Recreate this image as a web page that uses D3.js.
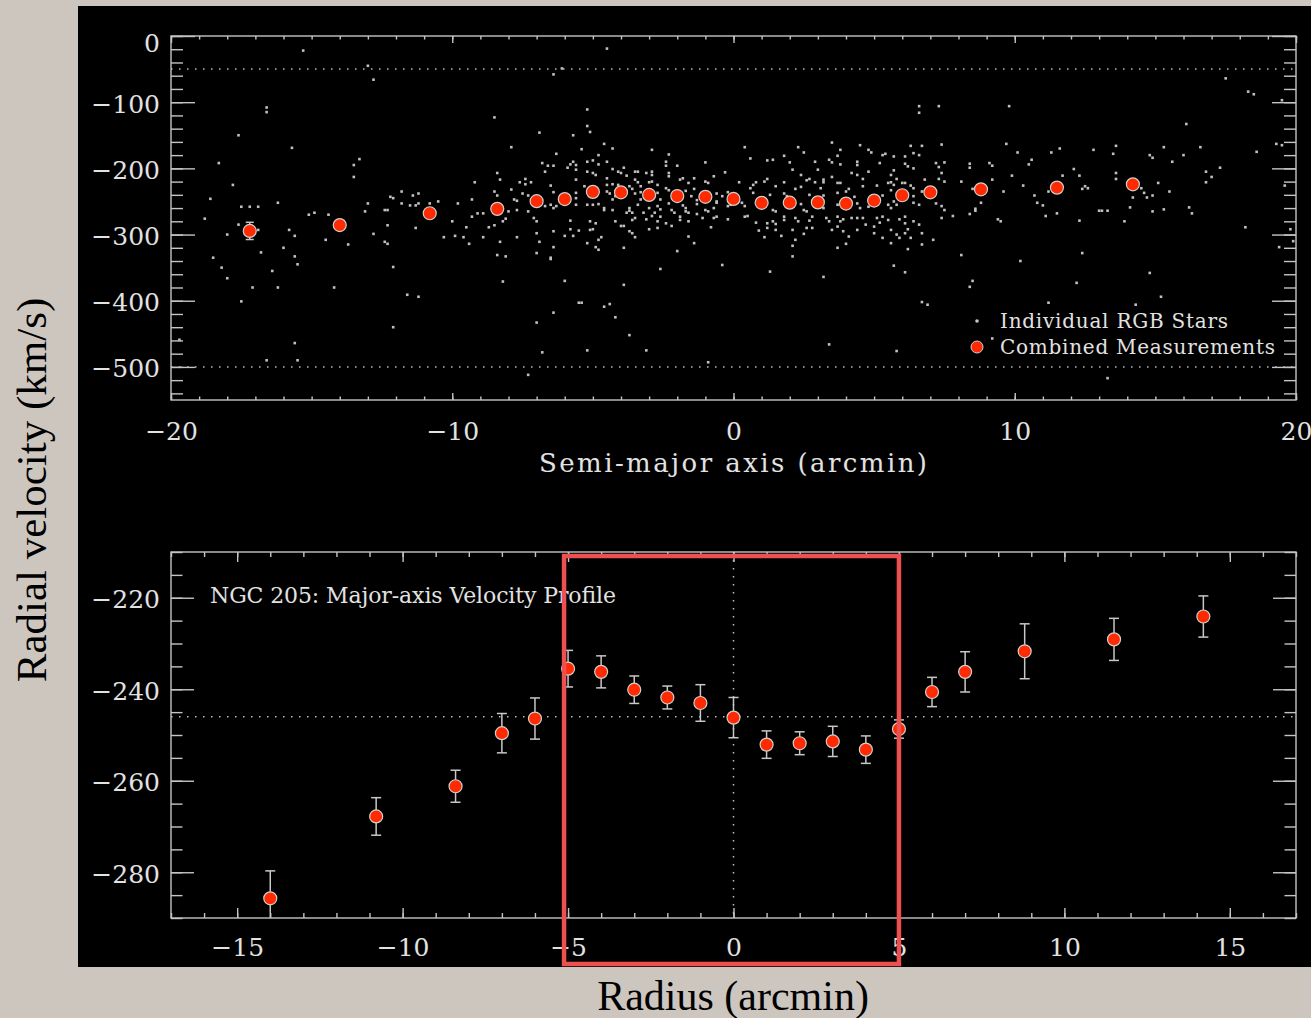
<!DOCTYPE html>
<html><head><meta charset="utf-8">
<script src="https://cdn.jsdelivr.net/npm/d3@7"></script>
<style>
html,body{margin:0;padding:0;background:#cdc6bf;}
svg{display:block;}
</style></head><body>
<svg id="c" width="1311" height="1018"></svg>
<script>
// ---------------- DATA ----------------
const radius      = [-17.2,-14,-10.8,-8.4,-7,-6,-5,-4,-3,-2,-1,0,1,2,3,4,5,6,7,8.8,11.5,14.2];
const velocity    = [-294.5,-285.7,-267.8,-261.2,-249.6,-246.4,-235.5,-236.2,-240.1,-241.8,-243,-246.2,-252.1,-251.8,-251.4,-253.2,-248.7,-240.6,-236.2,-231.7,-229.1,-224.1];
const velocityErr = [13,6,4.1,3.5,4.3,4.5,4,3.5,3,2.5,4,4.4,3,2.5,3.3,3,2,3.2,4.4,6,4.6,4.5];

// individual RGB stars: [semi-major axis (arcmin), radial velocity (km/s)]
const stars = [
[-15.3,-22],[-16.6,-108],[-16.6,-115],[-17.6,-150],[-15.7,-169],[-18.3,-192],[-13.3,-186],[-13.5,-195],[-13.5,-213],[-17.8,-225],[-18.6,-246],[-16.2,-252],[-17.5,-258],[-17.2,-258],[-16.9,-258],[-18.8,-276],[-17.6,-285],[-16.9,-293],[-18.0,-300],[-15.1,-270],[-14.9,-267],[-14.4,-270],[-15.8,-293],[-15.6,-302],[-14.5,-308],[-13.7,-315],[-16.0,-320],[-18.5,-335],[-16.8,-327],[-15.6,-333],[-15.5,-345],[-18.2,-350],[-16.4,-355],[-18.0,-366],[-17.1,-380],[-16.2,-380],[-14.2,-380],[-17.5,-401],[-19.7,-459],[-15.6,-464],[-16.6,-490],[-15.5,-490],
[-13.0,-45],[-12.8,-66],[-8.5,-123],[-6.9,-146],[-7.9,-168],[-6.8,-192],[-6.6,-196],[-6.7,-205],[-8.4,-207],[-8.3,-217],[-9.2,-221],[-7.6,-221],[-7.4,-216],[-7.4,-224],[-7.2,-221],[-6.5,-226],[-8.5,-235],[-7.9,-232],[-7.5,-238],[-7.3,-241],[-11.8,-235],[-12.1,-245],[-12.2,-243],[-11.4,-241],[-11.2,-238],[-13.0,-253],[-11.8,-253],[-11.5,-256],[-11.3,-256],[-11.2,-253],[-10.8,-253],[-10.5,-250],[-9.8,-253],[-9.3,-247],[-8.4,-241],[-7.8,-247],[-7.7,-249],[-13.1,-265],[-12.4,-263],[-12.3,-263],[-9.1,-268],[-8.9,-268],[-9.3,-273],[-8.0,-265],[-7.7,-263],[-7.3,-265],[-8.1,-276],[-8.2,-280],[-7.1,-275],[-7.0,-280],[-6.7,-257],[-6.5,-255],[-12.3,-286],[-11.3,-290],[-10.0,-280],[-9.5,-289],[-8.7,-289],[-8.5,-286],[-12.8,-299],[-10.3,-304],[-9.9,-302],[-9.6,-304],[-8.9,-304],[-7.7,-304],[-7.0,-298],[-12.4,-311],[-12.3,-314],[-9.4,-314],[-8.3,-311],[-6.9,-311],[-7.0,-328],[-8.4,-331],[-8.1,-333],[-6.5,-337],[-12.1,-349],[-8.2,-371],[-11.6,-391],[-11.2,-394],[-12.1,-440],[-7.0,-433],[-6.8,-478],[-7.3,-512],
[-4.5,-19],[-6.1,-49],[-6.4,-58],[-5.2,-111],[-5.2,-136],[-5.1,-145],[-5.7,-150],[-4.6,-163],[-6.3,-178],[-5.4,-171],[-4.3,-170],[-2.9,-172],[-2.3,-179],[-4.8,-180],[-1.0,-191],[-5.7,-190],[-5.8,-194],[-5.6,-195],[-5.2,-190],[-5.0,-188],[-4.8,-194],[-4.5,-190],[-2.4,-190],[-2.4,-196],[-2.0,-196],[-6.4,-196],[-5.9,-199],[-5.6,-202],[-0.3,-206],[-5.2,-205],[-5.0,-207],[-4.9,-210],[-4.3,-201],[-4.1,-205],[-3.9,-199],[-4.0,-207],[-3.5,-205],[-3.4,-205],[-3.1,-207],[-2.9,-205],[-2.9,-210],[-2.3,-207],[-2.3,-212],[-1.9,-217],[-1.8,-215],[-1.4,-215],[-0.7,-212],[-5.6,-217],[-4.5,-215],[-3.8,-211],[-3.5,-217],[-3.4,-221],[-3.0,-221],[-2.9,-220],[-2.7,-225],[-1.6,-222],[-1.0,-220],[-0.9,-222],[0.2,-221],[-5.3,-227],[-4.5,-225],[-4.3,-224],[-4.1,-225],[-3.7,-227],[-3.6,-231],[-3.3,-227],[-2.4,-230],[-2.3,-233],[-1.7,-234],[-1.4,-231],[-6.4,-236],[-5.6,-237],[-4.5,-235],[-4.4,-238],[-4.2,-242],[-3.5,-238],[-3.3,-236],[-2.7,-237],[-1.5,-242],[-0.6,-238],[-0.4,-242],[-0.2,-236],[-5.6,-245],[-4.3,-247],[-3.3,-247],[-2.6,-247],[-1.3,-248],[-1.3,-254],[-0.6,-250],[-6.3,-257],[-6.4,-260],[-5.6,-255],[-5.2,-255],[-5.0,-255],[-4.8,-254],[-4.6,-260],[-4.6,-263],[-4.3,-263],[-3.7,-260],[-3.7,-264],[-3.4,-255],[-3.0,-260],[-2.7,-257],[-2.6,-262],[-2.3,-253],[-2.2,-263],[-1.8,-256],[-1.7,-260],[-1.7,-265],[-1.0,-263],[-0.9,-265],[-0.7,-260],[-0.6,-252],[-0.2,-257],[-0.1,-255],[-3.8,-267],[-3.6,-267],[-3.2,-267],[-2.9,-272],[-2.8,-267],[-2.6,-273],[-2.1,-267],[-1.9,-273],[-1.9,-278],[-1.6,-267],[-1.3,-269],[-1.1,-275],[-0.7,-275],[-0.6,-273],[-0.2,-277],[-5.8,-279],[-5.1,-280],[-4.9,-283],[-4.2,-280],[-4.0,-287],[-3.9,-287],[-3.6,-278],[-3.5,-275],[-3.1,-277],[-2.7,-280],[-2.7,-290],[-2.4,-283],[-2.2,-287],[-1.6,-280],[-0.8,-289],[-6.4,-295],[-5.8,-292],[-5.5,-294],[-5.1,-293],[-5.0,-292],[-3.6,-298],[-3.7,-295],[-3.0,-292],[-6.0,-302],[-5.7,-302],[-4.7,-304],[-4.8,-308],[-3.5,-304],[-1.6,-303],[-5.2,-313],[-1.4,-313],[-4.9,-319],[-4.8,-323],[-3.9,-320],[-6.4,-319],[-2.0,-325],[-6.5,-335],[-0.4,-346],[-2.6,-352],[-6.0,-370],[-3.9,-376],[-5.5,-403],[-5.4,-403],[-4.4,-405],[-4.6,-409],[-6.4,-418],[-4.2,-425],[-3.7,-452],[-5.2,-475],[-3.1,-475],[-0.9,-493],
[6.6,-106],[6.6,-116],[3.5,-161],[0.4,-168],[2.3,-168],[4.5,-165],[6.3,-166],[6.7,-166],[4.8,-172],[4.9,-176],[2.5,-176],[0.6,-185],[1.8,-181],[3.7,-181],[3.8,-172],[1.2,-188],[1.4,-187],[2.0,-191],[2.9,-190],[3.4,-187],[3.5,-191],[3.8,-194],[4.4,-190],[4.4,-195],[5.2,-192],[5.3,-180],[5.4,-178],[5.7,-182],[6.1,-182],[6.1,-193],[6.2,-197],[6.4,-177],[6.6,-180],[2.1,-202],[3.0,-202],[4.8,-205],[5.7,-203],[5.6,-210],[6.4,-200],[0.8,-221],[0.7,-225],[1.2,-216],[1.1,-220],[1.8,-221],[2.4,-210],[2.6,-218],[2.7,-216],[2.9,-221],[3.2,-217],[3.2,-221],[3.5,-213],[3.7,-222],[3.8,-222],[4.2,-207],[4.4,-210],[4.6,-216],[5.5,-222],[5.6,-221],[5.7,-225],[5.8,-216],[6.0,-222],[6.1,-222],[6.3,-226],[6.4,-230],[6.8,-217],[0.6,-230],[1.5,-227],[2.2,-231],[2.4,-228],[3.1,-230],[4.1,-231],[4.0,-235],[4.6,-227],[5.1,-226],[5.6,-233],[6.7,-235],[0.7,-237],[1.3,-240],[1.8,-238],[1.9,-242],[2.7,-240],[3.2,-241],[3.7,-237],[4.3,-243],[5.3,-241],[6.4,-242],[0.3,-252],[0.4,-257],[1.4,-263],[1.5,-265],[2.4,-254],[2.5,-263],[2.6,-265],[3.2,-260],[3.7,-255],[4.4,-253],[4.5,-260],[4.8,-258],[5.5,-255],[5.6,-260],[5.7,-250],[5.8,-255],[6.4,-252],[6.6,-255],[0.4,-273],[0.5,-272],[0.8,-282],[1.2,-283],[1.4,-280],[1.5,-284],[1.8,-273],[1.8,-278],[2.2,-275],[2.3,-280],[2.8,-273],[2.7,-279],[3.3,-275],[3.4,-280],[3.7,-273],[3.8,-280],[3.9,-277],[4.2,-275],[4.4,-275],[4.6,-275],[4.7,-285],[5.1,-275],[5.2,-282],[5.3,-273],[5.5,-278],[5.9,-277],[6.1,-273],[6.1,-283],[6.4,-280],[6.6,-285],[0.9,-294],[1.2,-290],[1.5,-293],[1.7,-302],[2.1,-293],[2.6,-290],[2.8,-290],[2.5,-299],[3.5,-293],[3.7,-288],[3.9,-295],[4.4,-293],[5.0,-288],[5.0,-298],[5.3,-305],[5.6,-293],[5.8,-300],[6.1,-298],[6.2,-292],[6.7,-298],[1.1,-304],[2.2,-308],[4.1,-303],[5.6,-313],[5.9,-305],[6.3,-305],[2.1,-317],[3.7,-320],[4.0,-314],[6.2,-322],[6.7,-315],[2.1,-333],[5.7,-347],[1.3,-356],[6.1,-357],[3.2,-364],[6.7,-402],[6.9,-406],[3.4,-466],[5.8,-476],
[7.3,-106],[9.8,-106],[7.4,-164],[9.7,-163],[10.1,-176],[11.3,-176],[11.6,-170],[12.8,-172],[13.6,-166],[13.5,-178],[7.2,-192],[7.3,-198],[7.5,-191],[8.4,-193],[8.4,-199],[9.1,-192],[9.2,-196],[10.6,-187],[10.5,-194],[12.1,-201],[13.6,-207],[13.6,-216],[7.4,-207],[7.3,-216],[7.5,-220],[9.2,-217],[9.9,-211],[11.7,-211],[12.3,-211],[8.1,-220],[10.3,-226],[11.2,-235],[12.4,-231],[12.5,-227],[12.6,-230],[9.6,-235],[8.5,-231],[7.2,-253],[7.4,-257],[7.5,-263],[8.6,-261],[8.6,-264],[8.8,-252],[8.4,-269],[10.7,-241],[10.8,-252],[11.0,-256],[11.1,-272],[11.5,-268],[13.0,-264],[13.1,-264],[13.3,-264],[7.4,-275],[7.8,-272],[9.4,-277],[9.5,-280],[12.3,-279],[7.1,-308],[8.1,-331],[10.2,-340],[12.4,-328],[8.5,-370],[8.4,-379],[12.2,-373],[11.2,-403],[9.2,-457],[13.3,-517],
[17.5,-64],[18.3,-84],[18.5,-88],[19.5,-97],[16.1,-133],[15.3,-168],[16.6,-168],[14.8,-180],[14.9,-184],[16.0,-180],[15.6,-190],[19.3,-163],[19.5,-165],[18.6,-175],[17.3,-199],[16.8,-205],[17.0,-213],[16.8,-221],[15.1,-222],[14.5,-230],[14.6,-237],[14.7,-244],[14.9,-241],[15.5,-235],[14.2,-244],[19.6,-226],[14.1,-259],[14.9,-265],[15.3,-262],[16.2,-259],[16.3,-268],[13.9,-280],[18.2,-289],[19.8,-292],[19.9,-310],[19.4,-319],[14.8,-358],[15.2,-394],[14.3,-406]
];

const topXTicks = [-20,-10,0,10,20];
const topYTicks = [0,-100,-200,-300,-400,-500];
const botXTicks = [-15,-10,-5,0,5,10,15];
const botYTicks = [-220,-240,-260,-280];
const velocityLimits = [-50,-500];
const systemicVelocity = -246;
const legendLabels = ["Individual RGB Stars","Combined Measurements"];
const panelTitle = "NGC 205: Major-axis Velocity Profile";
const topXTitle = "Semi-major axis (arcmin)";
const yTitle = "Radial velocity  (km/s)";
const xTitle = "Radius (arcmin)";

// ---------------- DRAW ----------------
const AX = "#c4c4c4", TXT = "#e2e2e2", FONT = "DejaVu Serif", RED = "#ff2a00";
const svg = d3.select("#c");
svg.append("rect").attr("x",78).attr("y",6).attr("width",1233).attr("height",961).attr("fill","#000");

const fmt = d3.format("d");
const combined = radius.map((r,i)=>({x:r, v:velocity[i], e:velocityErr[i]}));

function axes(x, y, xt, yt, xMinor, yMinor, xLen, yLen, xPad, showZeroShift){
  const [x0,x1] = x.range(), [y0,y1] = y.range(); // y0 bottom
  const g = svg.append("g");
  const style = s => { s.select(".domain").remove(); s.selectAll("line").attr("stroke",AX).attr("stroke-width",1.4);
    s.attr("font-family",FONT).attr("font-size",25); s.selectAll("text").attr("fill",TXT); };
  g.append("g").attr("transform",`translate(${x0},0)`).call(d3.axisLeft(y).tickValues(yMinor).tickSize(-yLen/2).tickFormat("")).call(style);
  g.append("g").attr("transform",`translate(${x1},0)`).call(d3.axisRight(y).tickValues(yMinor).tickSize(-yLen/2).tickFormat("")).call(style);
  g.append("g").attr("transform",`translate(0,${y0})`).call(d3.axisBottom(x).tickValues(xMinor).tickSize(-xLen/2).tickFormat("")).call(style);
  g.append("g").attr("transform",`translate(0,${y1})`).call(d3.axisTop(x).tickValues(xMinor).tickSize(-xLen/2).tickFormat("")).call(style);
  const ly = g.append("g").attr("transform",`translate(${x0},0)`).call(d3.axisLeft(y).tickValues(yt).tickSize(-yLen).tickPadding(11).tickFormat(fmt)).call(style);
  ly.selectAll("text").attr("dy", d => (showZeroShift && d===0) ? "0.62em" : "0.4em");
  g.append("g").attr("transform",`translate(${x1},0)`).call(d3.axisRight(y).tickValues(yt).tickSize(-yLen).tickFormat("")).call(style);
  g.append("g").attr("transform",`translate(0,${y0})`).call(d3.axisBottom(x).tickValues(xt).tickSize(-xLen).tickPadding(xPad).tickFormat(fmt)).call(style);
  g.append("g").attr("transform",`translate(0,${y1})`).call(d3.axisTop(x).tickValues(xt).tickSize(-xLen).tickFormat("")).call(style);
  g.append("rect").attr("x",x0).attr("y",y1).attr("width",x1-x0).attr("height",y0-y1)
    .attr("fill","none").attr("stroke",AX).attr("stroke-width",1.4);
}

function errorPoints(g, x, y, r, cap){
  const e = g.append("g").attr("stroke","#c8c8c8").attr("stroke-width",1.5);
  e.selectAll(".v").data(combined).join("line").attr("x1",d=>x(d.x)).attr("x2",d=>x(d.x)).attr("y1",d=>y(d.v-d.e)).attr("y2",d=>y(d.v+d.e));
  e.selectAll(".t").data(combined).join("line").attr("x1",d=>x(d.x)-cap).attr("x2",d=>x(d.x)+cap).attr("y1",d=>y(d.v+d.e)).attr("y2",d=>y(d.v+d.e));
  e.selectAll(".b").data(combined).join("line").attr("x1",d=>x(d.x)-cap).attr("x2",d=>x(d.x)+cap).attr("y1",d=>y(d.v-d.e)).attr("y2",d=>y(d.v-d.e));
  g.append("g").selectAll("circle").data(combined).join("circle").attr("cx",d=>x(d.x)).attr("cy",d=>y(d.v)).attr("r",r)
    .attr("fill",RED).attr("stroke","#d0d0d0").attr("stroke-width",1.2);
}

// ===== Top panel =====
const xT = d3.scaleLinear().domain([-20,20]).range([171,1296]);
const yT = d3.scaleLinear().domain([-550,0]).range([400,36]);
svg.append("clipPath").attr("id","clipT").append("rect").attr("x",171).attr("y",36).attr("width",1125).attr("height",364);
const gT = svg.append("g").attr("clip-path","url(#clipT)");
gT.selectAll(".lim").data(velocityLimits).join("line").attr("x1",171).attr("x2",1296)
  .attr("y1",d=>yT(d)).attr("y2",d=>yT(d)).attr("stroke","#bdbdbd").attr("stroke-width",1.5).attr("stroke-dasharray","1.5,6.5");
gT.append("g").selectAll("rect").data(stars).join("rect")
  .attr("x",d=>xT(d[0])-1.3).attr("y",d=>yT(d[1])-1.3).attr("width",2.6).attr("height",2.6).attr("fill","#c0c0c0");
errorPoints(gT, xT, yT, 6.5, 4);
axes(xT, yT, topXTicks, topYTicks, d3.range(-20,21,1), d3.range(-540,1,20), 7, 24, 22, true);
svg.append("text").attr("x",733).attr("y",472).attr("text-anchor","middle").attr("font-family",FONT).attr("font-size",26)
  .attr("fill",TXT).attr("textLength",388).attr("lengthAdjust","spacing").text(topXTitle);
// legend
svg.append("circle").attr("cx",977).attr("cy",321).attr("r",1.8).attr("fill","#c8c8c8");
svg.append("circle").attr("cx",977).attr("cy",347).attr("r",6).attr("fill",RED).attr("stroke","#d0d0d0").attr("stroke-width",1);
svg.selectAll(".leg").data(legendLabels).join("text").attr("x",1000).attr("y",(d,i)=>328+i*26)
  .attr("font-family",FONT).attr("font-size",20).attr("fill",TXT)
  .attr("textLength",(d,i)=>i===0?228:275).attr("lengthAdjust","spacing").text(d=>d);

// ===== Bottom panel =====
const xB = d3.scaleLinear().domain([-17,17]).range([171,1296]);
const yB = d3.scaleLinear().domain([-290,-210]).range([918,552]);
svg.append("clipPath").attr("id","clipB").append("rect").attr("x",171).attr("y",552).attr("width",1125).attr("height",366);
const gB = svg.append("g").attr("clip-path","url(#clipB)");
gB.append("line").attr("x1",171).attr("x2",1296).attr("y1",yB(systemicVelocity)).attr("y2",yB(systemicVelocity))
  .attr("stroke","#bdbdbd").attr("stroke-width",1.5).attr("stroke-dasharray","1.5,6.5");
gB.append("line").attr("x1",xB(0)).attr("x2",xB(0)).attr("y1",552).attr("y2",918)
  .attr("stroke","#bdbdbd").attr("stroke-width",1.5).attr("stroke-dasharray","1.5,6.5");
errorPoints(gB, xB, yB, 6.5, 5);
axes(xB, yB, botXTicks, botYTicks, d3.range(-17,18,1), d3.range(-290,-209,5), 10, 23, 20, false);
svg.append("text").attr("x",210).attr("y",603).attr("font-family",FONT).attr("font-size",22).attr("fill",TXT)
  .attr("textLength",406).attr("lengthAdjust","spacing").text(panelTitle);

// highlight box
svg.append("rect").attr("x",xB(-5)-4).attr("y",556).attr("width",xB(5)-xB(-5)+4).attr("height",408)
  .attr("fill","none").attr("stroke","#ec5050").attr("stroke-width",4.5);

// outer titles
svg.append("text").attr("transform","translate(46,490) rotate(-90)").attr("text-anchor","middle")
  .attr("font-family","Liberation Serif").attr("font-size",43).attr("fill","#000").text(yTitle);
svg.append("text").attr("x",733).attr("y",1010).attr("text-anchor","middle")
  .attr("font-family","Liberation Serif").attr("font-size",42).attr("fill","#000").text(xTitle);
</script>
</body></html>
